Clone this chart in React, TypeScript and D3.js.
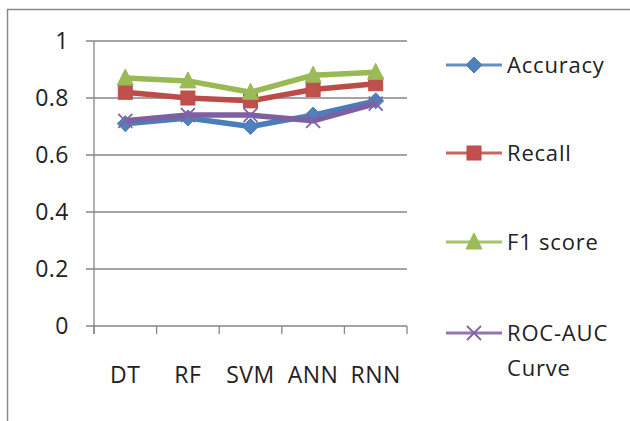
import React from "react";
import * as d3 from "d3";

// Model scores per metric
const categories = ["DT", "RF", "SVM", "ANN", "RNN"];
const accuracy = [0.71, 0.73, 0.7, 0.74, 0.79];
const recall = [0.82, 0.8, 0.79, 0.83, 0.85];
const f1Score = [0.87, 0.86, 0.82, 0.88, 0.89];
const rocAuc = [0.72, 0.74, 0.74, 0.72, 0.78];
const yTicks = [0, 0.2, 0.4, 0.6, 0.8, 1];
const yTickLabels = ["0", "0.2", "0.4", "0.6", "0.8", "1"];

type MarkerKind = "diamond" | "square" | "triangle" | "cross";

const seriesList: {
  name: string[];
  values: number[];
  line: string;
  fill: string;
  marker: MarkerKind;
}[] = [
  { name: ["Accuracy"], values: accuracy, line: "#4a7ebb", fill: "#4f81bd", marker: "diamond" },
  { name: ["Recall"], values: recall, line: "#be4b48", fill: "#c0504d", marker: "square" },
  { name: ["F1 score"], values: f1Score, line: "#98b954", fill: "#9bbb59", marker: "triangle" },
  { name: ["ROC-AUC", "Curve"], values: rocAuc, line: "#7d60a0", fill: "#8064a2", marker: "cross" },
];

const W = 630;
const H = 421;
const plot = { left: 94, right: 407, top: 41, bottom: 326 };
const FONT = "'Open Sans', 'DejaVu Sans', sans-serif";

function Marker({ kind, x, y, fill, stroke }: { kind: MarkerKind; x: number; y: number; fill: string; stroke: string }) {
  if (kind === "diamond") {
    const r = 8;
    return <path d={`M${x},${y - r}L${x + r},${y}L${x},${y + r}L${x - r},${y}Z`} fill={fill} stroke={stroke} strokeWidth={1} />;
  }
  if (kind === "square") {
    const r = 7;
    return <rect x={x - r} y={y - r} width={2 * r} height={2 * r} fill={fill} stroke={stroke} strokeWidth={1} />;
  }
  if (kind === "triangle") {
    const r = 8;
    return <path d={`M${x},${y - r - 1}L${x + r},${y + r - 1}L${x - r},${y + r - 1}Z`} fill={fill} stroke={stroke} strokeWidth={1} />;
  }
  const r = 7;
  return (
    <path
      d={`M${x - r},${y - r}L${x + r},${y + r}M${x - r},${y + r}L${x + r},${y - r}`}
      stroke={fill}
      strokeWidth={1.8}
      fill="none"
    />
  );
}

export default function App() {
  const x = d3.scaleBand<string>().domain(categories).range([plot.left, plot.right]).padding(0);
  const cx = (c: string) => (x(c) ?? 0) + x.bandwidth() / 2;
  const y = d3.scaleLinear().domain([0, 1]).range([plot.bottom, plot.top]);

  const line = d3
    .line<number>()
    .x((_, i) => cx(categories[i]))
    .y((v) => y(v));

  const xEdges = categories.map((c) => x(c) ?? 0).concat([plot.right]);
  const legendY = [65, 153, 242, 333];
  const grid = "#868686";

  return (
    <svg width={W} height={H} style={{ position: "absolute", left: 0, top: 0, background: "#fff" }} fontFamily={FONT}>
      {/* chart frame */}
      <path d={`M7.5,${H}V9.5H${W}`} fill="none" stroke="#8a8a8a" strokeWidth={1.5} />

      {/* gridlines and y ticks */}
      {yTicks.map((t, i) => (
        <g key={t}>
          <line x1={plot.left - 8} x2={plot.right} y1={y(t)} y2={y(t)} stroke={grid} strokeWidth={1.3} />
          <text x={69} y={y(t)} dy="0.36em" textAnchor="end" fontSize={23} letterSpacing={0.5} fill="#222">
            {yTickLabels[i]}
          </text>
        </g>
      ))}

      {/* axes */}
      <line x1={plot.left} x2={plot.left} y1={plot.top} y2={plot.bottom + 8} stroke={grid} strokeWidth={1.3} />
      {xEdges.map((e, i) => (
        <line key={i} x1={e} x2={e} y1={plot.bottom} y2={plot.bottom + 8} stroke={grid} strokeWidth={1.3} />
      ))}
      {categories.map((c) => (
        <text key={c} x={cx(c)} y={383} textAnchor="middle" fontSize={23} letterSpacing={0.5} fill="#222">
          {c}
        </text>
      ))}

      {/* series */}
      {seriesList.map((s) => (
        <g key={s.name.join(" ")}>
          <path d={line(s.values) ?? ""} fill="none" stroke={s.line} strokeWidth={5.5} strokeLinejoin="round" />
          {s.values.map((v, i) => (
            <Marker key={i} kind={s.marker} x={cx(categories[i])} y={y(v)} fill={s.fill} stroke={s.line} />
          ))}
        </g>
      ))}

      {/* legend */}
      {seriesList.map((s, i) => (
        <g key={"lg" + i}>
          <line x1={446} x2={502} y1={legendY[i]} y2={legendY[i]} stroke={s.line} strokeWidth={3} opacity={0.85} />
          <Marker kind={s.marker} x={474} y={legendY[i]} fill={s.fill} stroke={s.line} />
          {s.name.map((t, j) => (
            <text key={t} x={507} y={legendY[i] + j * 35} dy="0.36em" fontSize={22} letterSpacing={0.8} fill="#222">
              {t}
            </text>
          ))}
        </g>
      ))}
    </svg>
  );
}
